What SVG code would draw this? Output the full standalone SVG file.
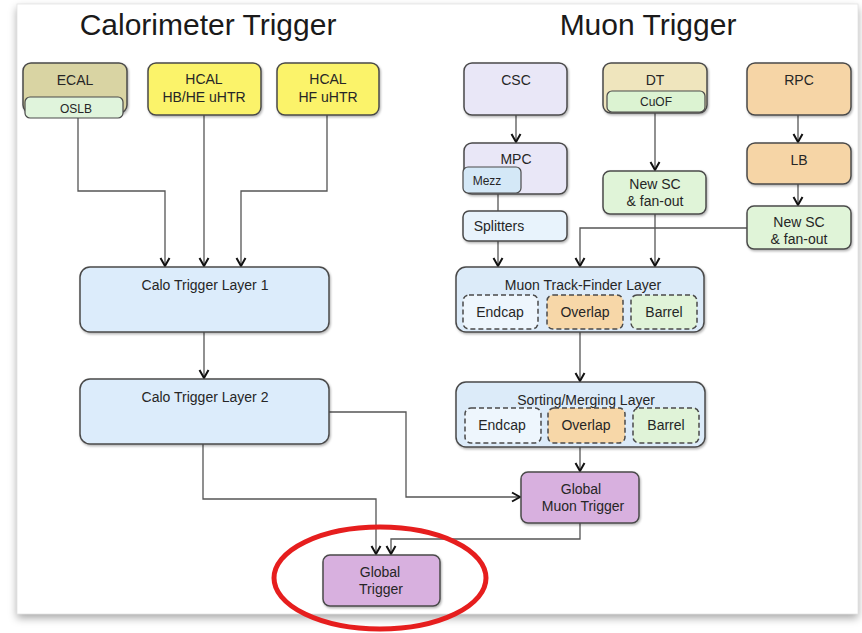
<svg xmlns="http://www.w3.org/2000/svg" width="862" height="633" viewBox="0 0 862 633">
<defs>
<filter id="pageShadow" x="-5%" y="-5%" width="110%" height="112%">
<feDropShadow dx="0" dy="4" stdDeviation="4" flood-color="#000" flood-opacity="0.35"/>
</filter>
<filter id="boxShadow" x="-10%" y="-10%" width="125%" height="130%">
<feDropShadow dx="1" dy="1.5" stdDeviation="1.2" flood-color="#000" flood-opacity="0.3"/>
</filter>
<marker id="arr" markerWidth="12" markerHeight="12" refX="10" refY="6" orient="auto" markerUnits="userSpaceOnUse" viewBox="0 0 12 12">
<path d="M2,1.5 L10,6 L2,10.5" fill="none" stroke="#111" stroke-width="2"/>
</marker>
</defs>
<style>
.box{stroke:#4a4a4a;stroke-width:1.5;filter:url(#boxShadow)}
.sub{stroke:#4a4a4a;stroke-width:1.2}
.dash{stroke:#4a4a4a;stroke-width:1.5;stroke-dasharray:5,3}
.t{font-family:"Liberation Sans",Arial,sans-serif;font-size:14px;fill:#262626;text-anchor:middle}
.ts{font-family:"Liberation Sans",Arial,sans-serif;font-size:12px;fill:#262626;text-anchor:middle}
.title{font-family:"Liberation Sans",Arial,sans-serif;font-size:30px;fill:#1a1a1a;text-anchor:middle}
.c{fill:none;stroke:#555;stroke-width:1.3}
</style>
<rect width="862" height="633" fill="#fff"/>
<rect x="17" y="4" width="841" height="610" fill="#fff" filter="url(#pageShadow)"/>
<rect x="17" y="4" width="841" height="610" fill="#fff" stroke="#e4e4e4" stroke-width="0.8"/>

<text class="title" x="208" y="35">Calorimeter Trigger</text>
<text class="title" x="648" y="35">Muon Trigger</text>

<g id="connectors">
<path class="c" d="M78,118 V191 H165 V266" marker-end="url(#arr)"/>
<path class="c" d="M204,115 V266" marker-end="url(#arr)"/>
<path class="c" d="M327,115 V191 H241 V266" marker-end="url(#arr)"/>
<path class="c" d="M204,332 V378" marker-end="url(#arr)"/>
<path class="c" d="M329,412 H406 V497 H520" marker-end="url(#arr)"/>
<path class="c" d="M203,444 V499 H376 V554" marker-end="url(#arr)"/>
<path class="c" d="M580,523 V539 H391 V554" marker-end="url(#arr)"/>
<path class="c" d="M516,115 V142" marker-end="url(#arr)"/>
<path class="c" d="M498,193 V211"/>
<path class="c" d="M498,241 V266" marker-end="url(#arr)"/>
<path class="c" d="M655,112 V170" marker-end="url(#arr)"/>
<path class="c" d="M655,214 V266" marker-end="url(#arr)"/>
<path class="c" d="M798,115 V142" marker-end="url(#arr)"/>
<path class="c" d="M798,184 V205" marker-end="url(#arr)"/>
<path class="c" d="M747,228 H580 V266" marker-end="url(#arr)"/>
<path class="c" d="M580,332 V381" marker-end="url(#arr)"/>
<path class="c" d="M580,447 V471" marker-end="url(#arr)"/>
</g>

<g id="ecal">
<rect class="box" x="23" y="63" width="104" height="50" rx="8" fill="#d9d4a3"/>
<text class="t" x="75" y="85">ECAL</text>
<rect class="sub" x="25" y="97" width="98" height="21" rx="5" fill="#e0f4dc"/>
<text class="ts" x="76" y="113">OSLB</text>
</g>
<g id="hcal-hbhe">
<rect class="box" x="148" y="63" width="113" height="52" rx="8" fill="#fbf36a"/>
<text class="t" x="204" y="84">HCAL</text>
<text class="t" x="204" y="102">HB/HE uHTR</text>
</g>
<g id="hcal-hf">
<rect class="box" x="277" y="63" width="102" height="52" rx="8" fill="#fbf36a"/>
<text class="t" x="328" y="84">HCAL</text>
<text class="t" x="328" y="102">HF uHTR</text>
</g>
<g id="calo-l1">
<rect class="box" x="80" y="267" width="249" height="65" rx="10" fill="#dcecfb"/>
<text class="t" x="205" y="290">Calo Trigger Layer 1</text>
</g>
<g id="calo-l2">
<rect class="box" x="80" y="379" width="249" height="65" rx="10" fill="#dcecfb"/>
<text class="t" x="205" y="402">Calo Trigger Layer 2</text>
</g>
<g id="global-trigger">
<rect class="box" x="323" y="555" width="117" height="51" rx="7" fill="#d8b0df"/>
<text class="t" x="380" y="577">Global</text>
<text class="t" x="381" y="594">Trigger</text>
</g>

<g id="csc">
<rect class="box" x="464" y="63" width="103" height="52" rx="8" fill="#e9e7f7"/>
<text class="t" x="516" y="85">CSC</text>
</g>
<g id="dt">
<rect class="box" x="603" y="63" width="104" height="50" rx="8" fill="#efe5bd"/>
<text class="t" x="655" y="85">DT</text>
<rect class="sub" x="607" y="91" width="98" height="21" rx="5" fill="#dcf3d2"/>
<text class="ts" x="656" y="106">CuOF</text>
</g>
<g id="rpc">
<rect class="box" x="747" y="63" width="104" height="52" rx="8" fill="#f6d5a6"/>
<text class="t" x="799" y="85">RPC</text>
</g>
<g id="mpc">
<rect class="box" x="464" y="143" width="103" height="51" rx="8" fill="#e9e7f7"/>
<text class="t" x="516" y="164">MPC</text>
<rect class="sub" x="463" y="167" width="58" height="26" rx="5" fill="#d4e8f7"/>
<text class="ts" x="487" y="185">Mezz</text>
</g>
<g id="splitters">
<rect class="box" x="463" y="211" width="104" height="30" rx="6" fill="#e8f3fc"/>
<text class="t" x="499" y="231">Splitters</text>
</g>
<g id="newsc-dt">
<rect class="box" x="603" y="171" width="103" height="43" rx="7" fill="#e0f4d8"/>
<text class="t" x="655" y="189">New SC</text>
<text class="t" x="655" y="206">&amp; fan-out</text>
</g>
<g id="lb">
<rect class="box" x="747" y="143" width="104" height="41" rx="8" fill="#f6d5a6"/>
<text class="t" x="799" y="165">LB</text>
</g>
<g id="newsc-rpc">
<rect class="box" x="747" y="206" width="104" height="43" rx="7" fill="#e0f4d8"/>
<text class="t" x="799" y="227">New SC</text>
<text class="t" x="799" y="244">&amp; fan-out</text>
</g>
<g id="muon-tf">
<rect class="box" x="456" y="267" width="248" height="65" rx="10" fill="#dcebf9"/>
<text class="t" x="583" y="290">Muon Track-Finder Layer</text>
<rect class="dash" x="463" y="295" width="75" height="34" rx="6" fill="#eef6fd"/>
<text class="t" x="500" y="317">Endcap</text>
<rect class="dash" x="547" y="295" width="76" height="34" rx="6" fill="#f7d7a8"/>
<text class="t" x="585" y="317">Overlap</text>
<rect class="dash" x="631" y="295" width="66" height="34" rx="6" fill="#e0f3d8"/>
<text class="t" x="664" y="317">Barrel</text>
</g>
<g id="sorting-merging">
<rect class="box" x="456" y="382" width="249" height="65" rx="10" fill="#dcebf9"/>
<text class="t" x="586" y="405">Sorting/Merging Layer</text>
<rect class="dash" x="465" y="408" width="76" height="35" rx="6" fill="#eef6fd"/>
<text class="t" x="502" y="430">Endcap</text>
<rect class="dash" x="548" y="408" width="77" height="35" rx="6" fill="#f7d7a8"/>
<text class="t" x="586" y="430">Overlap</text>
<rect class="dash" x="633" y="408" width="66" height="35" rx="6" fill="#e0f3d8"/>
<text class="t" x="666" y="430">Barrel</text>
</g>
<g id="global-muon-trigger">
<rect class="box" x="521" y="472" width="118" height="51" rx="7" fill="#d8b0df"/>
<text class="t" x="581" y="494">Global</text>
<text class="t" x="583" y="511">Muon Trigger</text>
</g>

<ellipse cx="380" cy="578" rx="106" ry="51" fill="none" stroke="#e61e1e" stroke-width="5"/>
</svg>
